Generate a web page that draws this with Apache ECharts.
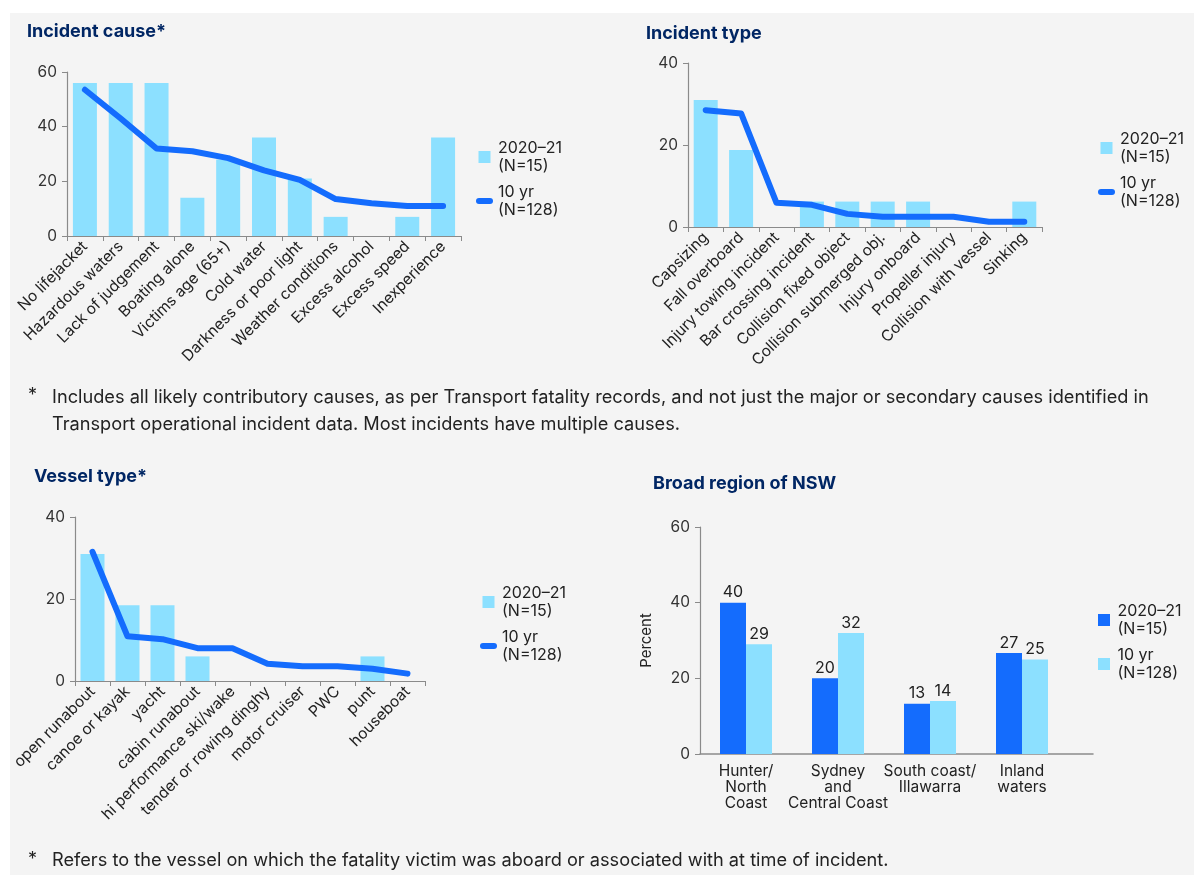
<!DOCTYPE html>
<html>
<head>
<meta charset="utf-8">
<script src="https://cdn.jsdelivr.net/npm/echarts@6/dist/echarts.min.js"></script>
<style>
  html, body { margin: 0; padding: 0; background: #fff; }
  #main { width: 1194px; height: 875px; }
</style>
</head>
<body>
<div id="main"></div>
<script>
// Incident cause (%)
var causeCats = ['No lifejacket', 'Hazardous waters', 'Lack of judgement', 'Boating alone', 'Victims age (65+)', 'Cold water', 'Darkness or poor light', 'Weather conditions', 'Excess alcohol', 'Excess speed', 'Inexperience'];
var causeYear = [56, 56, 56, 14, 28, 36, 21, 7, 0, 7, 36];
var causeTen = [53.5, 43, 32, 31, 28.5, 24, 20.5, 13.5, 12, 11, 11];

// Incident type (%)
var typeCats = ['Capsizing', 'Fall overboard', 'Injury towing incident', 'Bar crossing incident', 'Collision fixed object', 'Collision submerged obj.', 'Injury onboard', 'Propeller injury', 'Collision with vessel', 'Sinking'];
var typeYear = [31, 18.8, 0, 6.2, 6.2, 6.2, 6.2, 0, 0, 6.2];
var typeTen = [28.5, 27.7, 5.9, 5.4, 3.2, 2.5, 2.5, 2.5, 1.3, 1.3];

// Vessel type (%)
var vesselCats = ['open runabout', 'canoe or kayak', 'yacht', 'cabin runabout', 'hi performance ski/wake', 'tender or rowing dinghy', 'motor cruiser', 'PWC', 'punt', 'houseboat'];
var vesselYear = [31, 18.5, 18.5, 6, 0, 0, 0, 0, 6, 0];
var vesselTen = [31.5, 10.9, 10.2, 8, 8, 4.2, 3.6, 3.6, 3, 1.8];

// Broad region of NSW (%)
var regionCats = ['Hunter/\nNorth\nCoast', 'Sydney\nand\nCentral Coast', 'South coast/\nIllawarra', 'Inland\nwaters'];
var regionYear = [40, 20, 13.3, 26.7];
var regionTen = [29, 32, 14, 25];

var legendText = {
  causeY: '2020–21\n(N=15)', causeT: '10 yr\n(N=128)',
  typeY: '2020–21\n(N=15)', typeT: '10 yr\n(N=128)',
  vesselY: '2020–21\n(N=15)', vesselT: '10 yr\n(N=128)',
  regionY: '2020–21\n(N=15)', regionT: '10 yr\n(N=128)'
};

var LIGHT = '#8ce0ff';
var DARK = '#146cfd';
var NAVY = '#002664';
var AXIS = '#8a8a8a';
var FONT = 'Inter, "Noto Sans", sans-serif';
var SQUARE = 'path://M0,0H10V10H0Z';
var STROKE = 'path://M3,0H14A3,3 0 0 1 14,6H3A3,3 0 0 1 3,0Z';

var chart = echarts.init(document.getElementById('main'));

function title(text, left, top) {
  return { text: text, left: left, top: top, padding: 0,
    textStyle: { fontFamily: FONT, fontSize: 18, fontWeight: 'bold', color: NAVY } };
}

function legend(left, top, items) {
  return {
    left: left, top: top, orient: 'vertical', padding: 0,
    itemGap: -10, itemWidth: 17, itemHeight: 12,
    selectedMode: false,
    data: items,
    formatter: function (n) { return legendText[n]; },
    textStyle: { fontFamily: FONT, fontSize: 16, lineHeight: 18, color: '#222', padding: [18, 0, 0, 0] }
  };
}

function catAxis(idx, cats, rotate) {
  return {
    type: 'category', gridIndex: idx, data: cats,
    axisLine: { lineStyle: { color: AXIS, width: 1.2 } },
    axisTick: { show: true, length: 5, lineStyle: { color: AXIS } },
    axisLabel: { interval: 0, rotate: rotate, margin: 8, fontFamily: FONT, fontSize: 15.5, color: '#222' }
  };
}

function valAxis(idx, max) {
  return {
    type: 'value', gridIndex: idx, min: 0, max: max, interval: 20,
    axisLine: { show: true, lineStyle: { color: AXIS, width: 1.2 } },
    axisTick: { show: true, length: 5, lineStyle: { color: AXIS } },
    splitLine: { show: false },
    axisLabel: { margin: 10, fontFamily: FONT, fontSize: 15.5, color: '#333' }
  };
}

function barSeries(name, idx, data) {
  return { name: name, type: 'bar', xAxisIndex: idx, yAxisIndex: idx, data: data,
    barWidth: 24, itemStyle: { color: LIGHT }, z: 2 };
}

function lineSeries(name, idx, data) {
  return { name: name, type: 'line', xAxisIndex: idx, yAxisIndex: idx, data: data,
    symbol: 'none', z: 3,
    itemStyle: { color: DARK },
    lineStyle: { color: DARK, width: 6, cap: 'round', join: 'round' } };
}

var option = {
  backgroundColor: '#fff',
  animation: false,
  graphic: [
    { type: 'rect', left: 10, top: 13, shape: { width: 1184, height: 862 }, style: { fill: '#f4f4f4' }, z: -10 },
    { type: 'text', left: 28, top: 387, style: { text: '*', fontFamily: FONT, fontSize: 18, fill: '#222' } },
    { type: 'text', left: 52, top: 384, style: {
      text: 'Includes all likely contributory causes, as per Transport fatality records, and not just the major or secondary causes identified in\nTransport operational incident data. Most incidents have multiple causes.',
      fontFamily: FONT, fontSize: 18.2, lineHeight: 27, fill: '#222' } },
    { type: 'text', left: 28, top: 851, style: { text: '*', fontFamily: FONT, fontSize: 18, fill: '#222' } },
    { type: 'text', left: 52, top: 848, style: {
      text: 'Refers to the vessel on which the fatality victim was aboard or associated with at time of incident.',
      fontFamily: FONT, fontSize: 18.2, lineHeight: 26, fill: '#222' } }
  ],
  title: [
    title('Incident cause*', 27, 23),
    title('Incident type', 646, 25),
    title('Vessel type*', 34, 468),
    title('Broad region of NSW', 653, 475)
  ],
  legend: [
    legend(476, 130, [{ name: 'causeY', icon: SQUARE }, { name: 'causeT', icon: STROKE }]),
    legend(1098, 121, [{ name: 'typeY', icon: SQUARE }, { name: 'typeT', icon: STROKE }]),
    legend(480, 575, [{ name: 'vesselY', icon: SQUARE }, { name: 'vesselT', icon: STROKE }]),
    legend(1098, 593, [{ name: 'regionY', icon: SQUARE }, { name: 'regionT', icon: SQUARE }])
  ],
  grid: [
    { left: 67, top: 72, width: 394, height: 164 },
    { left: 688, top: 63, width: 354, height: 164 },
    { left: 75, top: 517, width: 350, height: 164 },
    { left: 700, top: 527, width: 368, height: 227 },
    { left: 700, top: 527, width: 393, height: 227 }
  ],
  xAxis: [
    catAxis(0, causeCats, 45),
    catAxis(1, typeCats, 45),
    catAxis(2, vesselCats, 45),
    {
      type: 'category', gridIndex: 3, data: regionCats,
      axisLine: { show: false },
      axisTick: { show: false },
      axisLabel: { interval: 0, margin: 9, fontFamily: FONT, fontSize: 15.5, lineHeight: 16, color: '#222' }
    },
    {
      type: 'value', gridIndex: 4, min: 0, max: 1,
      axisLine: { show: true, onZero: false, lineStyle: { color: AXIS, width: 1.5 } },
      axisTick: { show: false }, axisLabel: { show: false }, splitLine: { show: false }
    }
  ],
  yAxis: [
    valAxis(0, 60),
    valAxis(1, 40),
    valAxis(2, 40),
    Object.assign(valAxis(3, 60), {
      name: 'Percent', nameLocation: 'middle', nameGap: 46, nameRotate: 90,
      nameTextStyle: { fontFamily: FONT, fontSize: 15, color: '#222' }
    }),
    { type: 'value', gridIndex: 4, min: 0, max: 1, show: false }
  ],
  series: [
    barSeries('causeY', 0, causeYear),
    lineSeries('causeT', 0, causeTen),
    barSeries('typeY', 1, typeYear),
    lineSeries('typeT', 1, typeTen),
    barSeries('vesselY', 2, vesselYear),
    lineSeries('vesselT', 2, vesselTen),
    {
      name: 'regionY', type: 'bar', xAxisIndex: 3, yAxisIndex: 3, data: regionYear,
      barWidth: 26, barGap: '0%', itemStyle: { color: DARK },
      label: { show: true, position: 'top', distance: 2, fontFamily: FONT, fontSize: 16, color: '#222',
        formatter: function (p) { return Math.round(p.value); } }
    },
    {
      name: 'regionT', type: 'bar', xAxisIndex: 3, yAxisIndex: 3, data: regionTen,
      barWidth: 26, barGap: '0%', itemStyle: { color: LIGHT },
      label: { show: true, position: 'top', distance: 2, fontFamily: FONT, fontSize: 16, color: '#222',
        formatter: function (p) { return Math.round(p.value); } }
    }
  ]
};

chart.setOption(option);
</script>
</body>
</html>
